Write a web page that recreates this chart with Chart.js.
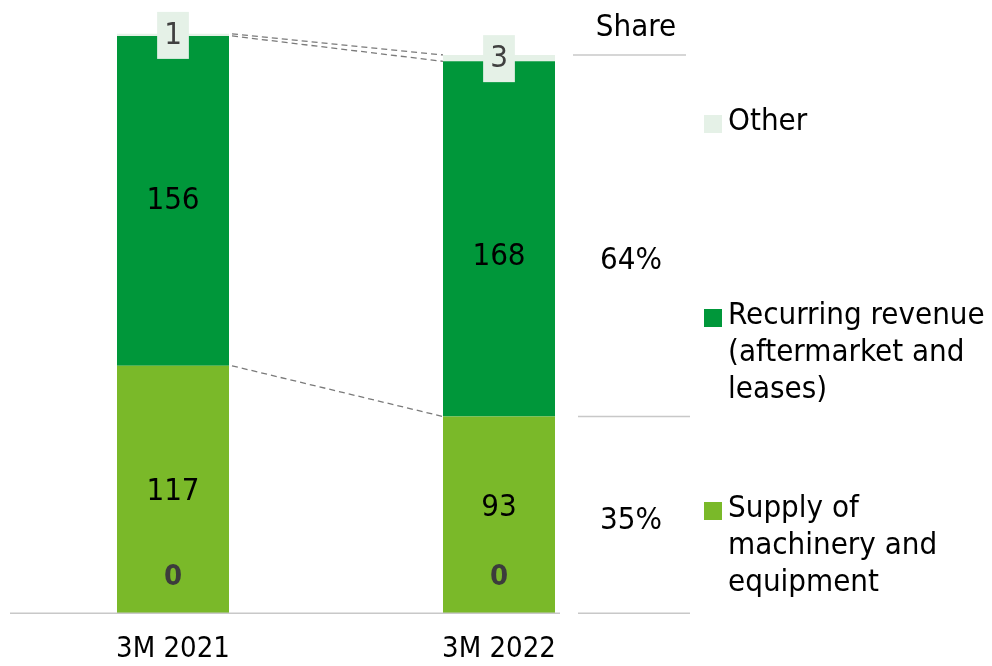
<!DOCTYPE html>
<html>
<head>
<meta charset="utf-8">
<script src="https://cdn.jsdelivr.net/npm/chart.js@4"></script>
<style>
  html, body { margin: 0; padding: 0; background: #fff; }
  #wrap { width: 992px; height: 666px; position: relative; }
</style>
</head>
<body>
<div id="wrap"><canvas id="revenueChart"></canvas></div>
<script>
// Data
const categories = ["3M 2021", "3M 2022"];
const supplyValues = [117, 93];
const recurringValues = [156, 168];
const otherValues = [1, 3];
const zeroValues = [0, 0]; // the small bold "0" labels at the foot of each bar

const seriesNames = ["Other", "Recurring revenue (aftermarket and leases)", "Supply of machinery and equipment"];
const legendLines = [["Other"], ["Recurring revenue", "(aftermarket and", "leases)"], ["Supply of", "machinery and", "equipment"]];
const yMax = 290;

const FONT = "'Liberation Sans Narrow', 'DejaVu Sans Condensed', Roboto, sans-serif";
const COLORS = { supply: "#7ab929", recurring: "#00973a", other: "#e5f1e7" };

// draws labels, connectors, share column and legend
const overlayPlugin = {
  id: "overlay",
  afterDatasetsDraw(chart) {
    const { ctx, scales: { y } } = chart;
    const supplyBars = chart.getDatasetMeta(0).data;
    const recBars = chart.getDatasetMeta(1).data;
    const otherBars = chart.getDatasetMeta(2).data;
    const base = y.getPixelForValue(0);
    const last = categories.length - 1;

    ctx.save();

    // baseline
    ctx.strokeStyle = "#c8c8c8";
    ctx.lineWidth = 1.5;
    const half = supplyBars[1].width / 2;
    ctx.beginPath();
    ctx.moveTo(chart.chartArea.left, base);
    ctx.lineTo(supplyBars[1].x + half + 5, base);
    ctx.stroke();

    // dashed connectors between the bars
    ctx.strokeStyle = "#7a7a7a";
    ctx.lineWidth = 1.3;
    ctx.setLineDash([6, 4]);
    const pairs = [
      [supplyBars[0].y, supplyBars[1].y],
      [recBars[0].y, recBars[1].y],
      [otherBars[0].y, otherBars[1].y]
    ];
    pairs.forEach(([y0, y1]) => {
      ctx.beginPath();
      ctx.moveTo(supplyBars[0].x + half + 3, y0);
      ctx.lineTo(supplyBars[1].x - half, y1);
      ctx.stroke();
    });
    ctx.setLineDash([]);

    ctx.textAlign = "center";
    ctx.textBaseline = "middle";

    // segment values
    ctx.font = "31px " + FONT;
    ctx.fillStyle = "#000";
    categories.forEach((c, i) => {
      const sb = supplyBars[i], rb = recBars[i];
      ctx.fillText(String(supplyValues[i]), sb.x, (sb.y + sb.base) / 2 + (i === last ? -7 : 2));
      ctx.fillText(String(recurringValues[i]), rb.x, (rb.y + rb.base) / 2 + (i === last ? 18 : 0));
    });

    // zero labels
    ctx.font = "bold 29px " + FONT;
    ctx.fillStyle = "#3c3c3c";
    categories.forEach((c, i) => {
      ctx.fillText(String(zeroValues[i]), supplyBars[i].x, base - 36);
    });

    // "Other" value boxes on top of bars
    ctx.font = "31px " + FONT;
    categories.forEach((c, i) => {
      const ob = otherBars[i];
      const cy = (ob.y + ob.base) / 2;
      const txt = String(otherValues[i]);
      const w = Math.max(30, ctx.measureText(txt).width + 14);
      ctx.fillStyle = COLORS.other;
      ctx.fillRect(ob.x - w / 2, cy - 23, w, 47);
      ctx.fillStyle = "#404040";
      ctx.fillText(txt, ob.x, cy + 1);
    });

    // share column
    const total = supplyValues[last] + recurringValues[last] + otherValues[last];
    const colX = 631;
    ctx.strokeStyle = "#c8c8c8";
    ctx.lineWidth = 1.5;
    [otherBars[last].y, supplyBars[last].y, base].forEach((ly, k) => {
      ctx.beginPath();
      ctx.moveTo(k === 0 ? 573 : 578, ly);
      ctx.lineTo(k === 0 ? 686 : 690, ly);
      ctx.stroke();
    });
    ctx.fillStyle = "#000";
    ctx.font = "31px " + FONT;
    ctx.fillText("Share", 636, 28);
    const recShare = Math.round(recurringValues[last] / total * 100);
    const supShare = Math.round(supplyValues[last] / total * 100);
    ctx.fillText(recShare + "%", colX, (recBars[last].y + recBars[last].base) / 2 + 22);
    ctx.fillText(supShare + "%", colX, (supplyBars[last].y + base) / 2 + 6);

    // legend
    const legendY = [122, 316, 509];
    const legendColors = [COLORS.other, COLORS.recurring, COLORS.supply];
    ctx.textAlign = "left";
    legendLines.forEach((lines, k) => {
      ctx.fillStyle = legendColors[k];
      ctx.fillRect(704, legendY[k] - 7, 18, 18);
      ctx.fillStyle = "#000";
      lines.forEach((ln, j) => ctx.fillText(ln, 728, legendY[k] + j * 37));
    });

    ctx.restore();
  }
};

new Chart(document.getElementById("revenueChart"), {
  type: "bar",
  data: {
    labels: categories,
    datasets: [
      { label: seriesNames[2], data: supplyValues, backgroundColor: COLORS.supply },
      { label: seriesNames[1], data: recurringValues, backgroundColor: COLORS.recurring },
      { label: seriesNames[0], data: otherValues, backgroundColor: COLORS.other }
    ]
  },
  options: {
    responsive: true,
    maintainAspectRatio: false,
    animation: false,
    events: [],
    layout: { padding: { left: 10, right: 330, top: 0, bottom: -20 } },
    datasets: { bar: { barPercentage: 1, categoryPercentage: 112 / 326 } },
    plugins: { legend: { display: false }, tooltip: { enabled: false } },
    scales: {
      x: {
        stacked: true,
        grid: { display: false, drawTicks: false },
        border: { display: false },
        ticks: { color: "#000", padding: 19, font: { family: FONT, size: 29 } }
      },
      y: { stacked: true, display: false, min: 0, max: yMax }
    }
  },
  plugins: [overlayPlugin]
});
</script>
</body>
</html>
